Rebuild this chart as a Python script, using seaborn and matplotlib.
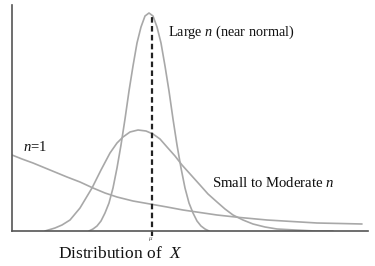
import matplotlib
matplotlib.use("Agg")
import matplotlib.pyplot as plt
import seaborn as sns
import pandas as pd

# Curves (x position, density height)
large_x = [89, 93, 97, 101, 105, 109, 113, 117, 121, 125, 129, 133, 137, 141, 145, 149,
           153, 157, 161, 165, 169, 173, 177, 181, 185, 189, 193, 197, 201, 205, 209]
large_y = [0, 2, 5, 10, 18, 28, 43, 63, 86, 112, 140, 165, 188, 204, 215, 218,
           215, 204, 188, 165, 140, 112, 86, 63, 43, 28, 18, 10, 5, 2, 0]

mod_x = [45, 55, 62, 70, 80, 92, 101, 110, 117, 123, 130, 138, 146, 153, 160, 167,
         175, 182, 191, 200, 208, 217, 225, 233, 243, 253, 265, 277, 295, 315, 333]
mod_y = [0, 3, 6, 11, 23, 43, 61, 78, 88, 94, 99, 101, 100, 97, 92, 84,
         75, 66, 56, 46, 37, 29, 22, 16, 11, 7, 4, 2, 1, 0, 0]

n1_x = [12, 22, 33, 50, 67, 80, 93, 105, 117, 133, 150, 167, 183, 200, 217, 240,
        267, 292, 317, 340, 362]
n1_y = [76, 72, 68, 61, 54, 49, 43, 38, 34, 30, 27, 24, 21, 18.5, 16, 13.5,
        11, 9.5, 8, 7.5, 7]

mu_x = 152

df = pd.concat([
    pd.DataFrame({"x": large_x, "y": large_y, "curve": "large"}),
    pd.DataFrame({"x": mod_x, "y": mod_y, "curve": "moderate"}),
    pd.DataFrame({"x": n1_x, "y": n1_y, "curve": "n1"}),
])

sns.set_style("white")
plt.rcParams["font.family"] = ["Liberation Serif", "DejaVu Serif"]
plt.rcParams["mathtext.fontset"] = "custom"
plt.rcParams["mathtext.rm"] = "Liberation Serif"
plt.rcParams["mathtext.it"] = "Liberation Serif:italic"

fig = plt.figure(figsize=(3.75, 2.66), dpi=100)
ax = fig.add_axes([12 / 375, 35 / 266, 356 / 375, 226 / 266])

sns.lineplot(data=df, x="x", y="y", hue="curve", units="curve", estimator=None,
             sort=False, palette={"large": "#a8a8a8", "moderate": "#a8a8a8", "n1": "#a8a8a8"},
             linewidth=1.2, legend=False, ax=ax)

ax.plot([mu_x, mu_x], [-5, 216], color="#222222", linewidth=1.6,
        linestyle=(0, (2.5, 1.5)), clip_on=False)

ax.set_xlim(12, 368)
ax.set_ylim(0, 226)
ax.set_xticks([])
ax.set_yticks([])
ax.set_xlabel("")
ax.set_ylabel("")
for s in ["top", "right"]:
    ax.spines[s].set_visible(False)
for s in ["left", "bottom"]:
    ax.spines[s].set_color("#555555")
    ax.spines[s].set_linewidth(1.2)

ax.text(168, 231 - 32, "Large $n$ (near normal)", fontsize=10.3, va="center", ha="left", color="#111111")
ax.text(23, 231 - 147, "$n$=1", fontsize=10.5, va="center", ha="left", color="#111111")
ax.text(212, 231 - 183, "Small to Moderate $n$", fontsize=10.6, va="center", ha="left", color="#111111")
ax.text(mu_x - 1, -8, r"$\mu$", fontsize=5, va="center", ha="center", color="#555555")
fig.text(120 / 375, 1 - 254 / 266, "Distribution of  $X$", fontsize=12.5, va="center", ha="center", color="#111111")

fig.savefig("out.png", dpi=100, facecolor="white")
